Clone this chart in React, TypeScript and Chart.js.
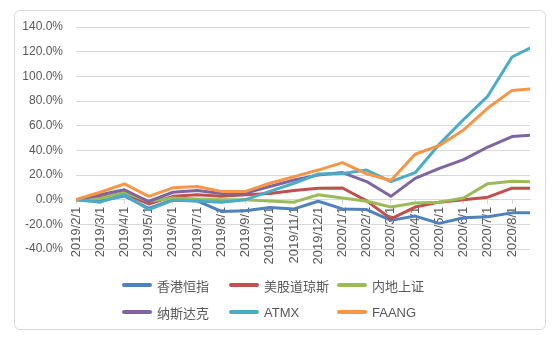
import React, { useEffect, useRef } from 'react';
import { Chart, registerables } from 'chart.js';

Chart.register(...registerables);

const tickLabels = [
  '2019/2/1', '2019/3/1', '2019/4/1', '2019/5/1', '2019/6/1', '2019/7/1', '2019/8/1',
  '2019/9/1', '2019/10/1', '2019/11/1', '2019/12/1', '2020/1/1', '2020/2/1', '2020/3/1',
  '2020/4/1', '2020/5/1', '2020/6/1', '2020/7/1', '2020/8/1',
];
const dates = [...tickLabels, '2020/8/24'];

const hangSeng = [0, -1, 3, -7, 0, -1, -9.5, -9, -6.3, -7.5, -1.3, -7.5, -8, -16.8, -13.3, -19.2, -14.7, -13.9, -10.7, -10.7];
const dowJones = [0, 2, 5, -3.5, 2.7, 4, 2.7, 4, 5, 7.5, 9.3, 9.5, -1, -15.5, -6, -2, 0, 2, 9.3, 9.3];
const shanghai = [0, 1, 6, -1.3, 1.3, 0.5, 0, 0, -1, -2, 4, 1.3, -1.3, -6, -2.7, -2, 1.3, 13, 15, 14.5];
const nasdaq = [0, 4, 8, -1.5, 6, 7.5, 5, 5.3, 10.7, 16, 20, 22, 14.7, 2.7, 17.3, 25.3, 32.5, 42.7, 51.2, 52.3];
const atmx = [0, -2, 4, -8, -0.5, -1, -2, 0, 6.7, 13.3, 20.8, 21.3, 24, 14.7, 21.9, 45, 65, 84, 115.7, 123];
const faang = [0, 6, 12.8, 2.7, 9.6, 10.7, 6.7, 6.7, 13.3, 18.7, 24, 30, 21, 15.5, 36.8, 44, 56.5, 74.3, 88.6, 89.7];

const seriesNames = ['香港恒指', '美股道琼斯', '内地上证', '纳斯达克', 'ATMX', 'FAANG'];
const seriesValues = [hangSeng, dowJones, shanghai, nasdaq, atmx, faang];
const seriesColors = ['#4F81BD', '#C0504D', '#9BBB59', '#8064A2', '#4BACC6', '#F79646'];

const yMin = -40;
const yMax = 140;
const yStep = 20;

function monthPos(d: string): number {
  const [y, m, day] = d.split('/').map(Number);
  const days = new Date(y, m, 0).getDate();
  return (y - 2019) * 12 + (m - 2) + (day - 1) / days;
}

const W = 557;
const H = 338;

export default function App() {
  const ref = useRef<HTMLCanvasElement | null>(null);

  useEffect(() => {
    if (!ref.current) return;
    const xs = dates.map(monthPos);
    const chart = new Chart(ref.current, {
      type: 'line',
      data: {
        datasets: seriesNames.map((name, i) => ({
          label: name,
          data: seriesValues[i].map((v, j) => ({ x: xs[j], y: v })),
          borderColor: seriesColors[i],
          backgroundColor: seriesColors[i],
          borderWidth: 3,
          pointRadius: 0,
          borderJoinStyle: 'round' as const,
          borderCapStyle: 'round' as const,
          tension: 0,
          order: seriesNames.length - i,
        })),
      },
      options: {
        responsive: false,
        animation: false,
        layout: { padding: { left: 0, top: 27, right: W - 530, bottom: H - 249 } },
        plugins: { legend: { display: false }, tooltip: { enabled: false } },
        scales: {
          x: {
            type: 'linear',
            min: 0,
            max: xs[xs.length - 1],
            position: { y: 0 } as any,
            grid: { drawOnChartArea: false, drawTicks: true, tickLength: 4, color: '#d9d9d9' },
            border: { display: true, color: '#d9d9d9' },
            ticks: {
              stepSize: 1,
              autoSkip: false,
              includeBounds: false,
              minRotation: 90,
              maxRotation: 90,
              padding: 3,
              color: '#595959',
              font: { family: '"Liberation Sans", Arial, sans-serif', size: 13 },
              callback: (v: any) => tickLabels[v as number] ?? '',
            },
          },
          y: {
            min: yMin,
            max: yMax,
            afterFit: (s: any) => { s.width = 76; },
            grid: { color: '#d9d9d9', drawTicks: false },
            border: { display: false },
            ticks: {
              stepSize: yStep,
              padding: 13,
              color: '#595959',
              font: { family: '"Liberation Sans", Arial, sans-serif', size: 12 },
              callback: (v: any) => Number(v).toFixed(1) + '%',
            },
          },
        },
      },
    });
    return () => chart.destroy();
  }, []);

  const legendCols = [122, 229, 337];
  const legendRows = [285, 312];

  return (
    <div style={{ position: 'fixed', left: 0, top: 0, width: W, height: H, background: '#fff', overflow: 'hidden' }}>
      <div
        style={{
          position: 'absolute', left: 14, top: 10, width: 532, height: 320,
          border: '1px solid #d9d9d9', borderRadius: 6, boxSizing: 'border-box',
        }}
      />
      <canvas ref={ref} width={W} height={H} style={{ position: 'absolute', left: 0, top: 0, width: W, height: H }} />
      {seriesNames.map((name, i) => {
        const col = i % 3;
        const row = Math.floor(i / 3);
        return (
          <div
            key={name}
            style={{
              position: 'absolute', left: legendCols[col], top: legendRows[row] - 10, height: 20,
              display: 'flex', alignItems: 'center', whiteSpace: 'nowrap',
            }}
          >
            <span style={{ display: 'inline-block', width: 30, height: 4, borderRadius: 2, background: seriesColors[i], marginRight: 5 }} />
            <span style={{ fontFamily: '"Liberation Sans", "Noto Sans CJK SC", sans-serif', fontSize: 13, color: '#595959' }}>{name}</span>
          </div>
        );
      })}
    </div>
  );
}
